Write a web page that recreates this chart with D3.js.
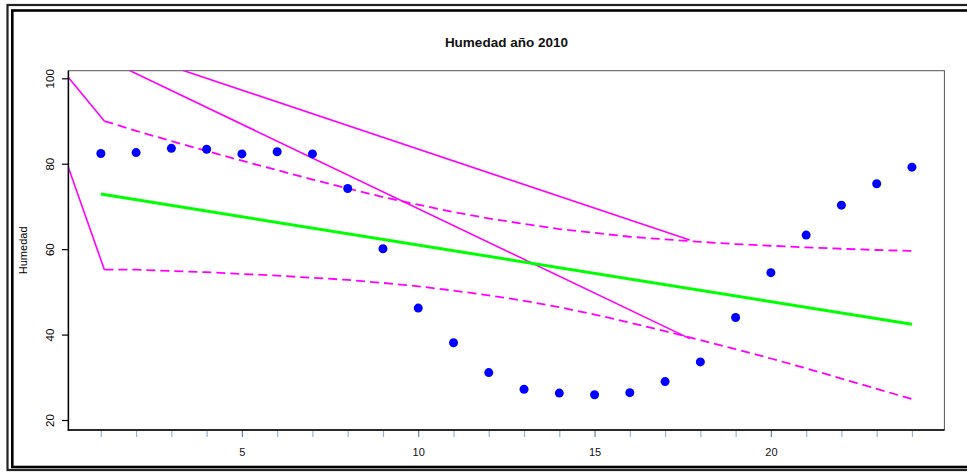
<!DOCTYPE html>
<html>
<head>
<meta charset="utf-8">
<script src="https://cdn.jsdelivr.net/npm/d3@7"></script>
<style>
  body { margin: 0; background: #fff; }
  svg { display: block; }
  text { font-family: "Liberation Sans", Arial, sans-serif; }
</style>
</head>
<body>
<svg id="chart" width="967" height="472"></svg>
<script>
// Hourly humidity readings (hour of day, %)
const hours = [1, 2, 3, 4, 5, 6, 7, 8, 9, 10, 11, 12, 13, 14, 15, 16, 17, 18, 19, 20, 21, 22, 23, 24];
const humidity = [82.4, 82.6, 83.6, 83.4, 82.3, 82.8, 82.3, 74.2, 60.1, 46.2, 38.1, 31.1, 27.2, 26.3, 25.9, 26.4, 29.0, 33.6, 44.0, 54.5, 63.3, 70.3, 75.3, 79.2];

// Fitted straight line (end points)
const fitX = [1, 24];
const fitY = [72.9, 42.4];

// Confidence band around the fitted line
const bandX = [1.1, 2, 3, 4, 5, 6, 7, 8, 9, 10, 11, 12, 13, 14, 15, 16, 17, 18, 19, 20, 21, 22, 23, 24];
const bandUpper = [90.0, 87.7, 85.3, 83.0, 80.7, 78.5, 76.3, 74.2, 72.2, 70.4, 68.7, 67.2, 65.9, 64.7, 63.8, 62.9, 62.3, 61.7, 61.2, 60.8, 60.4, 60.1, 59.8, 59.6];
const bandLower = [55.2, 55.2, 54.9, 54.6, 54.2, 53.8, 53.3, 52.8, 52.1, 51.3, 50.3, 49.2, 47.9, 46.4, 44.7, 42.8, 40.8, 38.7, 36.6, 34.4, 32.1, 29.7, 27.3, 24.9];

// Solid magenta segments
const segments = [
  { x: [0, 1.1], y: [101.0, 90.0] },
  { x: [0, 1.1], y: [81.0, 55.2] },
  { x: [0, 17.7], y: [109.0, 39.05] },
  { x: [0, 17.7], y: [111.05, 62.15] }
];

// Axis ticks
const yTicks = [20, 40, 60, 80, 100];
const xLabelTicks = [5, 10, 15, 20];

const title = "Humedad año 2010";
const yTitle = "Humedad";

const svg = d3.select("#chart");
const plot = { left: 68.4, right: 944.4, top: 70.7, bottom: 430 };

const x = d3.scaleLinear().domain([0.08, 24.92]).range([plot.left, plot.right]);
const y = d3.scaleLinear().domain([17.66, 101.78]).range([plot.bottom, plot.top]);

// Double frame around the figure
svg.append("rect").attr("x", 7.5).attr("y", 5).attr("width", 975).attr("height", 465)
  .attr("fill", "none").attr("stroke", "#222").attr("stroke-width", 2.2);
svg.append("rect").attr("x", 12.3).attr("y", 10.5).attr("width", 975).attr("height", 456.5)
  .attr("fill", "none").attr("stroke", "#000").attr("stroke-width", 2.6);

svg.append("defs").append("clipPath").attr("id", "plotClip")
  .append("rect")
  .attr("x", plot.left).attr("y", plot.top)
  .attr("width", plot.right - plot.left).attr("height", plot.bottom - plot.top);

// Plot box (top/right light)
svg.append("rect")
  .attr("x", plot.left).attr("y", plot.top)
  .attr("width", plot.right - plot.left).attr("height", plot.bottom - plot.top)
  .attr("fill", "none").attr("stroke", "#555").attr("stroke-width", 1);

const g = svg.append("g").attr("clip-path", "url(#plotClip)");

const line = d3.line().x(d => x(d[0])).y(d => y(d[1]));

// Solid magenta segments
segments.forEach(s => {
  g.append("path")
    .attr("d", line(d3.zip(s.x, s.y)))
    .attr("fill", "none").attr("stroke", "#ff00ff").attr("stroke-width", 1.6);
});

// Dashed confidence band
[bandUpper, bandLower].forEach(b => {
  g.append("path")
    .attr("d", line(d3.zip(bandX, b)))
    .attr("fill", "none").attr("stroke", "#ff00ff").attr("stroke-width", 1.8)
    .attr("stroke-dasharray", "9,5");
});

// Fitted line
g.append("path")
  .attr("d", line(d3.zip(fitX, fitY)))
  .attr("fill", "none").attr("stroke", "#00ff00").attr("stroke-width", 3);

// Observations
svg.append("g").selectAll("circle")
  .data(d3.zip(hours, humidity))
  .join("circle")
  .attr("cx", d => x(d[0])).attr("cy", d => y(d[1]))
  .attr("r", 4.5).attr("fill", "#0000ff");

// Y axis
const yAxis = svg.append("g")
  .attr("transform", `translate(${plot.left},0)`)
  .call(d3.axisLeft(y).tickValues(yTicks).tickSize(6.5).tickFormat(d3.format("d")));
yAxis.select(".domain").remove();
yAxis.selectAll(".tick line").attr("stroke", "#000").attr("stroke-width", 1.2);
yAxis.selectAll(".tick text")
  .attr("x", null).attr("dy", "0.36em")
  .attr("transform", "translate(-19,0) rotate(-90)")
  .attr("text-anchor", "middle")
  .attr("font-size", 11.5).attr("fill", "#000");

// X axis
const xAxis = svg.append("g")
  .attr("transform", `translate(0,${plot.bottom})`)
  .call(d3.axisBottom(x).tickValues(hours).tickSize(7).tickPadding(11)
    .tickFormat(d => xLabelTicks.includes(d) ? d : ""));
xAxis.select(".domain").remove();
xAxis.selectAll(".tick line")
  .attr("stroke", d => xLabelTicks.includes(d) ? "#5f84ab" : "#8cb6df")
  .attr("stroke-width", 1.2);
xAxis.selectAll(".tick text").attr("font-size", 11).attr("fill", "#111");

// Axis lines (left and bottom)
svg.append("line")
  .attr("x1", plot.left).attr("x2", plot.left)
  .attr("y1", plot.top).attr("y2", plot.bottom + 0.7)
  .attr("stroke", "#000").attr("stroke-width", 1.5);
svg.append("line")
  .attr("x1", plot.left - 0.7).attr("x2", plot.right)
  .attr("y1", plot.bottom).attr("y2", plot.bottom)
  .attr("stroke", "#000").attr("stroke-width", 1.5);

// Titles
svg.append("text")
  .attr("x", (plot.left + plot.right) / 2).attr("y", 47)
  .attr("text-anchor", "middle").attr("font-weight", "bold").attr("font-size", 13.5)
  .attr("fill", "#111")
  .text(title);

svg.append("text")
  .attr("transform", `translate(26.5,${(plot.top + plot.bottom) / 2}) rotate(-90)`)
  .attr("text-anchor", "middle").attr("font-size", 11).attr("fill", "#000")
  .text(yTitle);
</script>
</body>
</html>
